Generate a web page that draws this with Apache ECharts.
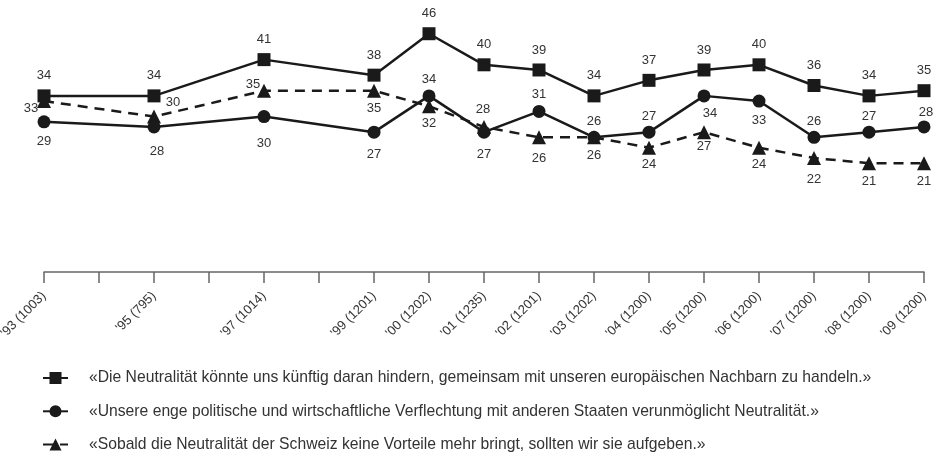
<!DOCTYPE html>
<html>
<head>
<meta charset="utf-8">
<script src="https://cdn.jsdelivr.net/npm/echarts@6/dist/echarts.min.js"></script>
<style>html,body{margin:0;padding:0;background:#fff}#c{width:936px;height:465px}</style>
</head>
<body>
<div id="c"></div>
<script>
// Survey years and x-axis tick labels (year with sample size)
const years = [1993, 1995, 1997, 1999, 2000, 2001, 2002, 2003, 2004, 2005, 2006, 2007, 2008, 2009];
const tickLabels = ["'93 (1003)", "'95 (795)", "'97 (1014)", "'99 (1201)", "'00 (1202)", "'01 (1235)", "'02 (1201)", "'03 (1202)", "'04 (1200)", "'05 (1200)", "'06 (1200)", "'07 (1200)", "'08 (1200)", "'09 (1200)"];

// Series names
const nameSquare = "«Die Neutralität könnte uns künftig daran hindern, gemeinsam mit unseren europäischen Nachbarn zu handeln.»";
const nameCircle = "«Unsere enge politische und wirtschaftliche Verflechtung mit anderen Staaten verunmöglicht Neutralität.»";
const nameTriangle = "«Sobald die Neutralität der Schweiz keine Vorteile mehr bringt, sollten wir sie aufgeben.»";

// Values (%)
const valSquare   = [34, 34, 41, 38, 46, 40, 39, 34, 37, 39, 40, 36, 34, 35];
const valCircle   = [29, 28, 30, 27, 34, 27, 31, 26, 27, 34, 33, 26, 27, 28];
const valTriangle = [33, 30, 35, 35, 32, 28, 26, 26, 24, 27, 24, 22, 21, 21];

// Label offsets (style only) relative to each point
const offSquare = years.map(() => [0, -20]);
const offCircle = [[0,20],[3,24],[0,27],[0,22],[0,-16],[0,22],[0,-17],[0,-16],[0,-16],[6,18],[0,19],[0,-16],[0,-16],[2,-15]];
const offTriangle = [[-13,7],[19,-14],[-11,-6],[0,18],[0,17],[-1,-18],[0,21],[0,18],[0,17],[0,14],[0,17],[0,21],[0,18],[0,18]];

function build(vals, offs) {
  return vals.map((v, i) => ({
    value: [years[i], v],
    label: { offset: offs[i] }
  }));
}

const ink = '#1a1a1a';
const font = 'Liberation Sans, Arial, sans-serif';
const labelBase = { show: true, position: 'inside', color: '#333', fontSize: 13, fontFamily: font, formatter: p => p.value[1] };

const chart = echarts.init(document.getElementById('c'), null, { renderer: 'canvas' });
chart.setOption({
  animation: false,
  backgroundColor: '#fff',
  grid: { left: 44, right: 12, top: 13, bottom: 193, containLabel: false, outerBoundsMode: 'none' },
  xAxis: {
    type: 'value', min: 1993, max: 2009, interval: 1,
    axisLine: { lineStyle: { color: '#666', width: 1.5 } },
    axisTick: { length: 11, lineStyle: { color: '#666', width: 1.5 } },
    splitLine: { show: false },
    axisLabel: {
      rotate: 45, margin: 22, color: '#333', fontSize: 13,
      fontFamily: font,
      showMinLabel: true, showMaxLabel: true, hideOverlap: false,
      formatter: v => { const i = years.indexOf(Math.round(v)); return i >= 0 ? tickLabels[i] : ''; }
    }
  },
  yAxis: { type: 'value', min: 0, max: 50, show: false, splitLine: { show: false } },
  legend: {
    orient: 'vertical', left: 37, top: 365, itemGap: 17.3,
    itemWidth: 25, itemHeight: 15,
    textStyle: { color: '#333', fontSize: 15.7, fontFamily: font, padding: [0, 0, 0, 16] },
    data: [nameSquare, nameCircle, nameTriangle]
  },
  series: [
    { name: nameSquare, type: 'line', symbol: 'rect', symbolSize: 13,
      lineStyle: { color: ink, width: 2.5 }, itemStyle: { color: ink },
      label: labelBase, data: build(valSquare, offSquare), z: 3 },
    { name: nameCircle, type: 'line', symbol: 'circle', symbolSize: 13,
      lineStyle: { color: ink, width: 2.5 }, itemStyle: { color: ink },
      label: labelBase, data: build(valCircle, offCircle), z: 2 },
    { name: nameTriangle, type: 'line', symbol: 'triangle', symbolSize: 14,
      lineStyle: { color: ink, width: 2.5, type: [10, 7] }, itemStyle: { color: ink },
      label: labelBase, data: build(valTriangle, offTriangle), z: 1 }
  ]
});
</script>
</body>
</html>
